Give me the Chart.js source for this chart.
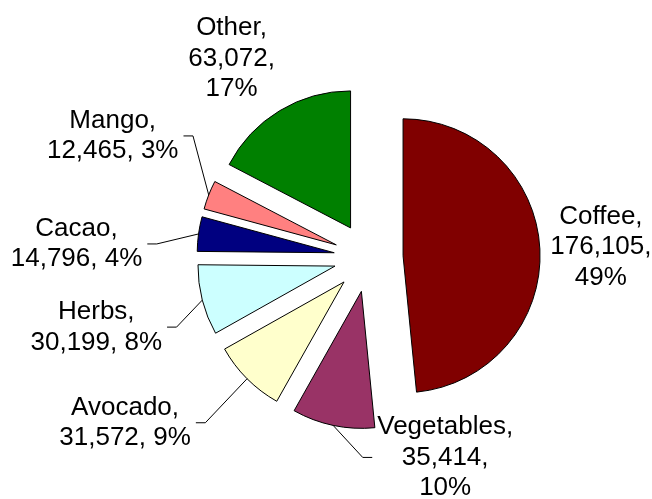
<!DOCTYPE html>
<html>
<head>
<meta charset="utf-8">
<script src="https://cdn.jsdelivr.net/npm/chart.js@4.4.1/dist/chart.umd.min.js"></script>
<style>
  html, body { margin: 0; padding: 0; background: #fff; }
  #wrap { width: 652px; height: 499px; }
</style>
</head>
<body>
<div id="wrap"><canvas id="pieChart" width="652" height="499"></canvas></div>
<script>
// data
const categories = ['Coffee', 'Vegetables', 'Avocado', 'Herbs', 'Cacao', 'Mango', 'Other'];
const values = [176105, 35414, 31572, 30199, 14796, 12465, 63072];
const pctLabels = ['49%', '10%', '9%', '8%', '4%', '3%', '17%'];

// styling
const sliceColors = ['#800000', '#993366', '#FFFFCC', '#CCFFFF', '#000080', '#FF8080', '#008000'];
const labelRows = [3, 3, 2, 2, 2, 2, 3];            // how each label wraps
const labelShift = [[61, -2], [112, 32], [-122, 44], [-106, 27], [-122, 10], [-96, -59], [-48, -52]];
const hasLeader = [false, true, true, true, true, true, false];
const EXPLODE = 34.6;   // every slice is pulled out by this many px
const RADIUS = 137;
const FONT = '26px "Liberation Sans", Arial, sans-serif';
const LINE_H = 30.5;

function labelLines(i) {
    const name = categories[i] + ',';
    const val = values[i].toLocaleString('en-US') + ',';
    if (labelRows[i] === 3) return [name, val, pctLabels[i]];
    return [name, val + ' ' + pctLabels[i]];
}

function midOf(arc) {
    return (arc.startAngle + arc.endAngle) / 2;
}

// draw the slices pulled out from the centre (Excel style explosion)
const explodePlugin = {
    id: 'explode',
    beforeDatasetDraw(chart, args) {
        const ctx = chart.ctx;
        args.meta.data.forEach(arc => {
            const a = midOf(arc);
            ctx.save();
            ctx.translate(Math.cos(a) * EXPLODE, Math.sin(a) * EXPLODE);
            arc.draw(ctx, chart.chartArea);
            ctx.restore();
        });
        return false;
    }
};

// labels with leader lines
const labelPlugin = {
    id: 'sliceLabels',
    afterDatasetsDraw(chart) {
        const ctx = chart.ctx;
        const meta = chart.getDatasetMeta(0);
        ctx.save();
        ctx.font = FONT;
        ctx.fillStyle = '#000';
        ctx.strokeStyle = '#000';
        ctx.lineWidth = 1;
        ctx.textAlign = 'center';
        ctx.textBaseline = 'middle';

        meta.data.forEach((arc, i) => {
            const a = midOf(arc);
            const r = arc.outerRadius;
            const ox = arc.x + Math.cos(a) * (EXPLODE + r);
            const oy = arc.y + Math.sin(a) * (EXPLODE + r);
            const cx = ox + labelShift[i][0];
            const cy = oy + labelShift[i][1];
            const lines = labelLines(i);
            const w = Math.max(...lines.map(t => ctx.measureText(t).width));

            if (hasLeader[i]) {
                const toLeft = labelShift[i][0] < 0;
                const endX = toLeft ? cx + w / 2 + 5 : cx - w / 2 - 5;
                const elbowX = toLeft ? endX + 9.5 : endX - 9.5;
                ctx.beginPath();
                ctx.moveTo(ox, oy);
                ctx.lineTo(elbowX, cy);
                ctx.lineTo(endX, cy);
                ctx.stroke();
            }

            const top = cy - (lines.length - 1) * LINE_H / 2;
            lines.forEach((t, k) => ctx.fillText(t, cx, top + k * LINE_H));
        });
        ctx.restore();
    }
};

new Chart(document.getElementById('pieChart'), {
    type: 'pie',
    data: {
        labels: categories,
        datasets: [{
            data: values,
            backgroundColor: sliceColors,
            borderColor: '#000',
            borderWidth: 1,
            borderJoinStyle: 'miter'
        }]
    },
    options: {
        responsive: false,
        animation: false,
        events: [],
        radius: RADIUS,
        layout: { padding: { left: 85, top: 16, right: 0, bottom: 0 } },
        plugins: {
            legend: { display: false },
            tooltip: { enabled: false }
        }
    },
    plugins: [explodePlugin, labelPlugin]
});
</script>
</body>
</html>
